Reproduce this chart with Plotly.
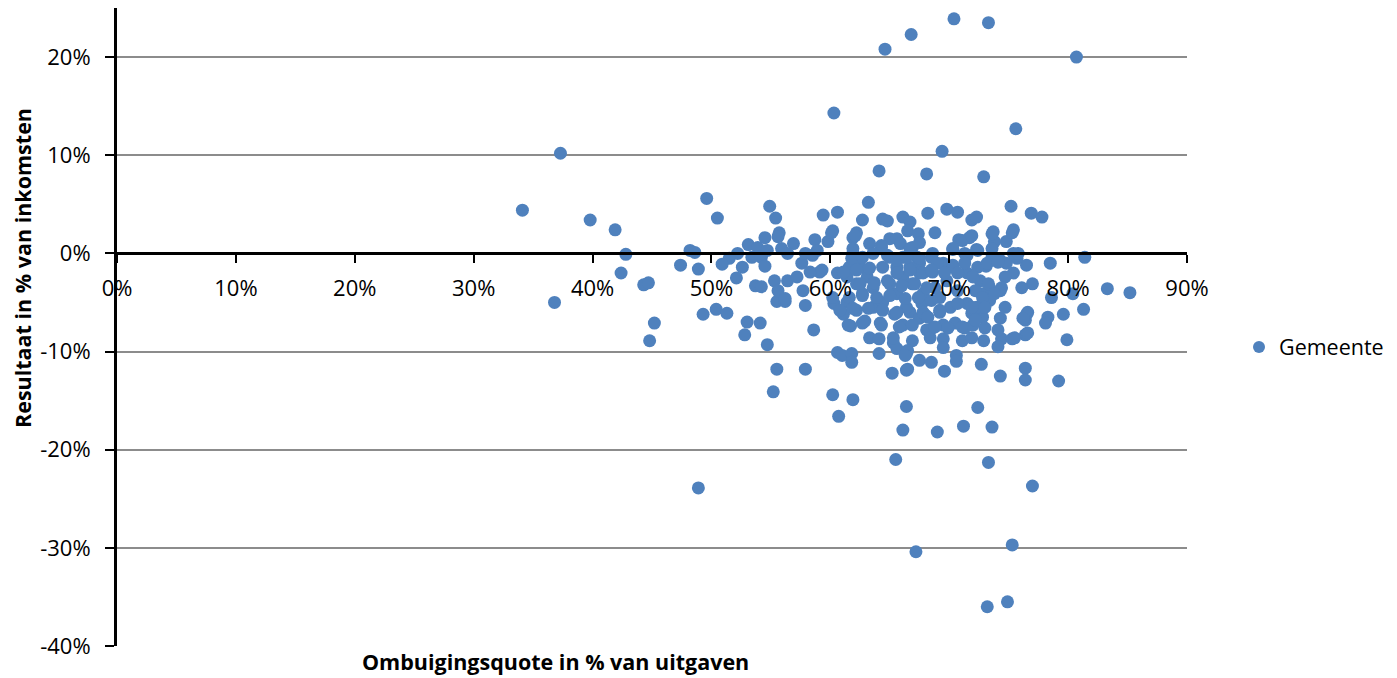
import plotly.graph_objects as go

# Ombuigingsquote (% van uitgaven) and Resultaat (% van inkomsten)
ombuiging = [
    70.4, 73.3, 66.8, 64.6, 80.7, 60.3, 75.6, 37.3, 69.4, 64.1, 68.1, 72.9,
    34.1, 39.8, 41.9, 42.8, 42.4, 36.8, 44.3, 44.7, 45.2, 44.8, 47.4, 48.2,
    48.6, 48.9, 49.6, 50.5, 49.3, 50.4, 51.3, 48.9, 54.9, 55.4, 53.0, 54.1,
    52.8, 54.7, 55.5, 57.9, 55.2, 57.9, 58.6, 55.5, 56.2, 60.2, 60.7, 61.9,
    60.6, 61.0, 61.8, 61.8, 64.1, 65.2, 66.4, 66.4, 66.1, 65.5, 61.1, 61.7,
    62.2, 62.9, 63.6, 63.3, 64.1, 64.3, 65.4, 66.1, 65.3, 65.6, 66.4, 60.3,
    61.4, 64.4,
    66.7, 67.7, 69.2, 67.5, 68.0, 68.6, 69.5, 70.5, 71.3, 71.9, 72.8, 73.0,
    72.0, 74.3, 74.7, 76.5, 76.4, 78.3, 78.1, 79.6, 81.3, 69.5, 69.5, 71.1,
    72.9, 74.4, 75.3, 74.1, 76.4, 79.9, 66.9, 66.5, 66.3, 67.5, 68.5, 66.5,
    69.6, 70.6, 70.6, 72.7, 74.3, 76.4, 76.4, 79.2, 72.4, 69.0, 71.2, 73.6,
    73.3, 77.0, 67.2, 75.3, 73.2, 74.9,
    81.4, 83.3, 85.2, 80.4, 78.6, 78.5, 76.5, 75.7, 75.4, 75.2, 76.9, 77.8,
    75.4, 74.8, 73.8, 73.7, 73.6, 77.0, 76.1, 75.4, 74.7, 74.3, 74.8, 73.1,
    68.2, 69.8, 70.7, 71.9, 72.3, 66.1, 66.7, 66.5, 67.4, 68.8, 70.8, 71.7,
    72.3, 70.3, 66.9, 68.6, 71.5, 67.3,
    55.7, 55.6, 54.5, 53.1, 53.9, 54.7, 55.9, 56.9, 56.4, 52.2, 51.5, 50.9,
    52.6, 53.4, 54.2, 54.5, 52.1, 53.7, 54.2, 55.3, 55.6, 56.2, 56.4, 57.2,
    57.6, 57.9, 58.7, 59.4, 60.6, 60.2, 59.8, 58.9, 58.5, 57.7, 59.1, 58.3,
    60.2, 60.6, 61.4, 61.9, 62.2, 62.7, 63.2, 63.3, 64.4, 64.8, 65.0, 65.6,
    64.3, 61.9, 62.2, 61.6, 62.5, 63.1, 63.6, 64.4, 65.0, 65.6, 66.1, 62.2,
    62.7, 63.9, 65.0, 65.6, 66.1,
    66.7, 67.5, 68.6, 69.5, 70.3, 71.5, 72.6, 73.4, 74.3, 72.8, 66.9, 67.8,
    69.2, 70.7, 71.5, 66.4, 72.3, 73.4, 70.1, 68.8, 69.8, 67.5,
    60.1, 62.1, 64.3, 65.9, 66.7, 67.5, 61.9, 61.8, 62.7, 63.6, 64.8, 65.6,
    66.4, 67.5, 61.1, 62.2, 63.3, 65.6, 66.7, 67.8, 59.3, 62.5, 63.7, 64.8,
    66.0, 67.1, 68.1, 61.6, 62.7, 65.0, 66.3, 67.4, 60.8, 61.9, 63.2, 64.4,
    65.6, 67.8, 61.5, 62.7, 64.2, 65.8, 66.9, 68.1, 65.3, 68.4,
    71.1, 71.9, 73.6, 75.3, 75.8, 70.3, 71.3, 72.4, 73.6, 68.5, 69.0, 70.3,
    71.3, 72.4, 73.2, 74.1, 68.5, 69.6, 70.7, 72.0, 73.3, 74.4, 72.2, 72.8,
    73.8, 68.5, 69.2, 70.7, 71.9, 73.0, 76.6, 76.2, 68.2, 68.8, 69.9, 71.1,
    72.2, 74.1, 75.5, 76.6, 71.9,
]
resultaat = [
    23.9, 23.5, 22.3, 20.8, 20.0, 14.3, 12.7, 10.2, 10.4, 8.4, 8.1, 7.8,
    4.4, 3.4, 2.4, -0.1, -2.0, -5.0, -3.2, -3.0, -7.1, -8.9, -1.2, 0.3,
    0.1, -1.6, 5.6, 3.6, -6.2, -5.7, -6.1, -23.9, 4.8, 3.6, -7.0, -7.1,
    -8.3, -9.3, -11.8, -11.8, -14.1, -5.3, -7.8, -4.9, -4.9, -14.4, -16.6, -14.9,
    -10.1, -10.4, -10.2, -11.1, -10.2, -12.2, -11.9, -15.6, -18.0, -21.0, -6.2, -7.4,
    -5.8, -6.9, -5.5, -8.6, -8.7, -7.3, -6.2, -7.3, -9.1, -9.7, -10.2, -5.1,
    -5.0, -5.0,
    -6.0, -5.1, -6.0, -6.6, -6.3, -7.6, -7.3, -7.1, -7.6, -6.1, -6.5, -7.6,
    -7.3, -6.6, -5.5, -6.2, -6.8, -6.5, -7.1, -6.2, -5.7, -8.7, -9.6, -8.9,
    -8.9, -8.7, -8.7, -9.5, -8.3, -8.8, -8.9, -9.9, -10.4, -10.9, -11.1, -11.8,
    -12.0, -10.4, -11.0, -11.3, -12.5, -11.7, -12.9, -13.0, -15.7, -18.2, -17.6, -17.7,
    -21.3, -23.7, -30.4, -29.7, -36.0, -35.5,
    -0.4, -3.6, -4.0, -4.1, -4.5, -1.0, -1.2, -0.5, 0.0, 4.8, 4.1, 3.7,
    2.4, 1.2, 1.2, 2.2, 0.5, -3.1, -3.5, -2.0, -2.4, -0.7, -1.0, -1.3,
    4.1, 4.5, 4.2, 3.4, 3.7, 3.7, 3.2, 2.3, 2.0, 2.1, 1.4, 1.6,
    0.4, 0.4, 0.6, 0.0, -0.2, -0.4,
    2.1, 1.7, 1.6, 0.9, 0.6, 0.3, 0.5, 1.0, 0.0, 0.0, -0.5, -1.1,
    -1.4, -0.4, -0.4, -1.3, -2.5, -3.3, -3.4, -2.8, -3.8, -4.6, -2.8, -2.4,
    -1.0, 0.0, 1.4, 3.9, 4.2, 2.3, 1.2, 0.3, -0.2, -3.8, -1.9, -1.9,
    -4.5, -2.0, -2.4, 1.6, 2.1, 3.4, 5.2, 1.0, 3.5, 3.3, 1.5, 1.5,
    0.6, 0.0, -0.7, -1.4, -1.4, -2.4, -3.5, -1.4, -0.4, -1.4, -0.4, -3.1,
    -4.1, -4.5, -3.1, -4.1, -2.4,
    -1.4, -1.0, -1.9, -1.0, -1.4, -2.0, -2.8, -3.5, -3.8, -4.1, -3.1, -4.1,
    -4.5, -3.8, -5.1, -5.5, -5.5, -4.8, -5.5, -3.5, -2.8, -2.0,
    2.1, 1.8, 0.8, 1.0, 0.5, 1.1, 0.5, -0.5, -0.4, 0.0, -0.2, -0.7,
    -0.4, -0.5, -1.9, -1.7, -1.5, -2.0, -1.7, -2.0, -1.7, -3.1, -3.0, -2.8,
    -3.3, -3.1, -3.5, -4.5, -4.3, -4.3, -4.6, -4.5, -5.8, -5.6, -5.6, -5.8,
    -6.0, -6.0, -7.3, -7.1, -7.1, -7.5, -7.3, -7.8, -8.6, -8.6,
    1.3, 1.8, 2.0, 2.1, 0.0, 0.5, 0.0, 0.3, -0.4, -0.4, -1.0, -1.2,
    -1.0, -1.4, -1.0, -0.9, -1.7, -2.0, -2.0, -2.4, -3.1, -3.5, -3.8, -4.5,
    -4.1, -4.8, -5.8, -5.1, -5.5, -5.5, -6.0, -6.6, -6.5, -7.5, -7.6, -7.5,
    -6.8, -7.8, -8.6, -8.1, -8.6,
]

x_ticks = [0, 10, 20, 30, 40, 50, 60, 70, 80, 90]
x_ticklabels = ["0%", "10%", "20%", "30%", "40%", "50%", "60%", "70%", "80%", "90%"]
y_ticks = [-40, -30, -20, -10, 0, 10, 20]
y_ticklabels = ["-40%", "-30%", "-20%", "-10%", "0%", "10%", "20%"]

FONT = "Open Sans"
BLUE = "#4F81BD"

fig = go.Figure()
fig.add_trace(go.Scatter(
    x=ombuiging, y=resultaat, mode="markers", name="Gemeente",
    marker=dict(color=BLUE, size=13, line=dict(width=0)),
))

y_min, y_max = -40, 25
# page has an 8px body margin; the figure is sized so the plot area lands
# at page x 117..1187 and y 8..646
PLOT_H = 638
fig.update_layout(
    width=1389, height=670,
    margin=dict(l=109, r=210, t=0, b=32, pad=0),
    paper_bgcolor="white", plot_bgcolor="white",
    font=dict(family=FONT, size=22, color="black"),
    showlegend=True,
    legend=dict(x=(1239 - 117) / 1070, y=(646 - 347) / PLOT_H,
                xanchor="left", yanchor="middle",
                font=dict(size=21.5, family=FONT), itemsizing="constant",
                bgcolor="rgba(0,0,0,0)"),
    xaxis=dict(
        range=[0, 90], tickvals=x_ticks, ticktext=x_ticklabels,
        anchor="free", position=(0 - y_min) / (y_max - y_min),
        showline=True, linecolor="black", linewidth=3,
        ticks="outside", ticklen=8, tickwidth=2, tickcolor="black",
        showgrid=False, zeroline=False, ticklabelstandoff=6,
    ),
    yaxis=dict(
        range=[y_min, y_max], tickvals=y_ticks, ticktext=y_ticklabels,
        showline=True, linecolor="black", linewidth=3,
        ticks="outside", ticklen=9, tickwidth=2, tickcolor="black",
        showgrid=True, gridcolor="#8C8C8C", gridwidth=1.5,
        zeroline=False, ticklabelstandoff=10,
    ),
    annotations=[
        dict(text="<b>Resultaat in % van inkomsten</b>", textangle=-90,
             xref="paper", yref="paper", x=(22 - 117) / 1070, y=(646 - 268) / PLOT_H,
             xanchor="center", yanchor="middle", showarrow=False,
             font=dict(size=21.5, family=FONT)),
        dict(text="<b>Ombuigingsquote in % van uitgaven</b>",
             xref="paper", yref="paper", x=(555 - 117) / 1070, y=(646 - 662) / PLOT_H,
             xanchor="center", yanchor="middle", showarrow=False,
             font=dict(size=21.5, family=FONT)),
    ],
)

fig.write_html("out.html")
